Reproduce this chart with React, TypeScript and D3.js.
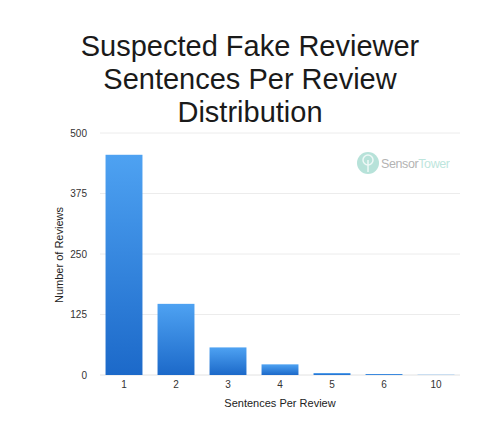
import * as d3 from "d3";

const categories = ["1", "2", "3", "4", "5", "6", "10"];
const reviewCounts = [455, 147, 57, 22, 4, 2, 0.5];
const yTicks = [0, 125, 250, 375, 500];
const titleLines = ["Suspected Fake Reviewer", "Sentences Per Review", "Distribution"];

const W = 500;
const H = 429;
const FONT = "'Liberation Sans', Arial, Helvetica, sans-serif";

export default function App() {
  const x = d3.scaleBand().domain(categories).range([98, 462]).paddingInner(0.29).paddingOuter(0.145);
  const y = d3.scaleLinear().domain([0, 500]).range([375, 133]);

  return (
    <svg width={W} height={H} style={{ position: "absolute", left: 0, top: 0, background: "#fff" }}>
      <defs>
        <linearGradient id="barGrad" x1="0" y1="0" x2="0" y2="1">
          <stop offset="0%" stopColor="#4ea2f2" />
          <stop offset="100%" stopColor="#1c69c9" />
        </linearGradient>
      </defs>

      {titleLines.map((t, i) => (
        <text key={t} x={250} y={56 + i * 33} textAnchor="middle" fontFamily={FONT} fontSize={29} fill="#1a1a1a">
          {t}
        </text>
      ))}

      {/* grid */}
      {yTicks.map((t) => (
        <g key={t}>
          <line x1={100} x2={460} y1={y(t)} y2={y(t)} stroke={t === 0 ? "#e2e2e2" : "#ececec"} strokeWidth={1} />
          <text x={87} y={y(t) + 3.5} textAnchor="end" fontFamily={FONT} fontSize={10} fill="#333">
            {t}
          </text>
        </g>
      ))}

      {/* watermark */}
      <g opacity={0.75}>
        <circle cx={368} cy={163} r={11} fill="#9fd9cd" />
        <circle cx={368} cy={160} r={5} fill="none" stroke="#e8f6f3" strokeWidth={1.5} />
        <line x1={368} x2={368} y1={160} y2={172} stroke="#e8f6f3" strokeWidth={1.5} />
        <text x={381} y={167.5} fontFamily={FONT} fontSize={12.5} textLength={69} fill="#9a9a9a">
          Sensor
          <tspan fill="#a8ddd2">Tower</tspan>
        </text>
      </g>

      {categories.map((c, i) => (
        <rect
          key={c}
          x={x(c)}
          y={y(reviewCounts[i])}
          width={x.bandwidth()}
          height={y(0) - y(reviewCounts[i])}
          fill="url(#barGrad)"
        />
      ))}

      {categories.map((c) => (
        <text key={c} x={(x(c) ?? 0) + x.bandwidth() / 2} y={388} textAnchor="middle" fontFamily={FONT} fontSize={10} fill="#333">
          {c}
        </text>
      ))}

      <text x={280} y={407} textAnchor="middle" fontFamily={FONT} fontSize={11} fill="#222">
        Sentences Per Review
      </text>
      <text transform="translate(63,255) rotate(-90)" textAnchor="middle" fontFamily={FONT} fontSize={11} fill="#222">
        Number of Reviews
      </text>
    </svg>
  );
}
